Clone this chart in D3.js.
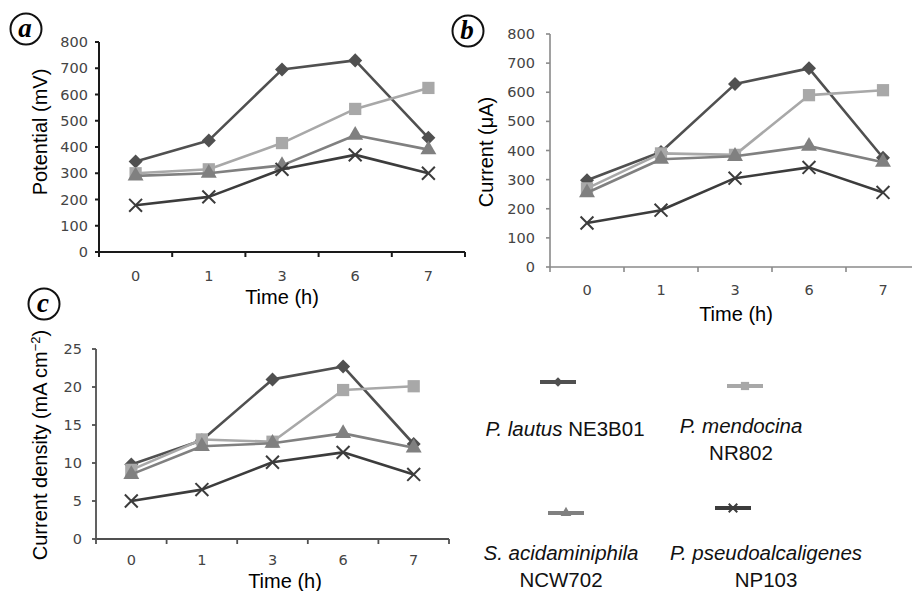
<!DOCTYPE html>
<html lang="en">
  <head>
    <meta charset="UTF-8" />
    <title>Potential, current and current density</title>
    <style>
      body { margin: 0; background: #fff; }
      text { font-family: "Liberation Sans", Arial, sans-serif; }
      .tick-label { font-family: "DejaVu Sans", Verdana, sans-serif; font-size: 14.5px; fill: #444; }
    </style>
  </head>
  <body>
    <svg id="svg" width="912" height="591"></svg>
    <script src="https://d3js.org/d3.v7.min.js"></script>
    <script>
      // sampling times (h)
      const times = ["0", "1", "3", "6", "7"];
      const strains = ["lautus", "mendocina", "acid", "pseudo"];

      // (a) potential, mV
      const potentialLautus = [345, 425, 695, 730, 435];
      const potentialMendocina = [300, 315, 415, 545, 625];
      const potentialAcid = [290, 300, 330, 445, 390];
      const potentialPseudo = [178, 210, 315, 370, 300];
      const potentialTicks = [0, 100, 200, 300, 400, 500, 600, 700, 800];

      // (b) current, uA
      const currentLautus = [298, 395, 628, 682, 375];
      const currentMendocina = [270, 390, 385, 590, 607];
      const currentAcid = [255, 370, 380, 415, 360];
      const currentPseudo = [151, 195, 305, 342, 256];
      const currentTicks = [0, 100, 200, 300, 400, 500, 600, 700, 800];

      // (c) current density, mA cm-2
      const densityLautus = [9.8, 13.0, 21.0, 22.7, 12.5];
      const densityMendocina = [9.1, 13.1, 12.8, 19.6, 20.1];
      const densityAcid = [8.5, 12.2, 12.6, 13.9, 12.0];
      const densityPseudo = [5.0, 6.5, 10.1, 11.4, 8.5];
      const densityTicks = [0, 5, 10, 15, 20, 25];

      // look of each series
      const style = {
        lautus: { color: "#505050", symbol: d3.symbolDiamond2, size: 125, fill: true },
        mendocina: { color: "#a8a8a8", symbol: d3.symbolSquare, size: 150, fill: true },
        acid: { color: "#808080", symbol: d3.symbolTriangle, size: 110, fill: true },
        pseudo: { color: "#3c3c3c", symbol: d3.symbolTimes, size: 110, fill: false }
      };

      const svg = d3.select("#svg");
      svg.append("rect").attr("width", 912).attr("height", 591).attr("fill", "#fff");

      function drawPanel(p) {
        const x = d3.scaleBand().domain(times).range([p.x0, p.x1]);
        const y = d3.scaleLinear().domain([0, d3.max(p.ticks)]).range([p.y0, p.y1]);
        const g = svg.append("g");

        // axes
        g.append("line")
          .attr("x1", p.x0).attr("x2", p.x0).attr("y1", y(d3.max(p.ticks))).attr("y2", p.y0)
          .attr("stroke", p.axisColor).attr("stroke-width", p.axisWidth);
        g.append("line")
          .attr("x1", p.x0).attr("x2", p.x1).attr("y1", p.y0).attr("y2", p.y0)
          .attr("stroke", p.axisColor).attr("stroke-width", p.axisWidth);
        const bounds = times.map((t) => x(t)).concat([p.x1]);
        g.selectAll(".xt").data(bounds).enter().append("line")
          .attr("x1", (d) => d).attr("x2", (d) => d)
          .attr("y1", p.y0).attr("y2", p.y0 + 5)
          .attr("stroke", p.axisColor).attr("stroke-width", p.axisWidth);
        g.selectAll(".yt").data(p.ticks).enter().append("line")
          .attr("x1", p.x0 - 4).attr("x2", p.x0)
          .attr("y1", (d) => y(d)).attr("y2", (d) => y(d))
          .attr("stroke", p.axisColor).attr("stroke-width", p.axisWidth);
        g.selectAll(".yl").data(p.ticks).enter().append("text")
          .attr("class", "tick-label")
          .attr("x", p.x0 - p.ylabOff).attr("y", (d) => y(d) + 5)
          .attr("text-anchor", "end").text((d) => d);
        g.selectAll(".xl").data(times).enter().append("text")
          .attr("class", "tick-label")
          .attr("x", (d) => x(d) + x.bandwidth() / 2).attr("y", p.y0 + p.xlabOff)
          .attr("text-anchor", "middle").text((d) => d);

        // titles
        g.append("text")
          .attr("x", p.xtitleX).attr("y", p.xtitleY)
          .attr("text-anchor", "middle").attr("font-size", 20).text("Time (h)");
        const yt = g.append("text")
          .attr("transform", `translate(${p.ytitleX},${p.ytitleY}) rotate(-90)`)
          .attr("text-anchor", "middle").attr("font-size", 20);
        p.ytitle(yt);

        // series
        const line = d3.line().x((d, i) => x(times[i]) + x.bandwidth() / 2).y((d) => y(d));
        strains.forEach((s, k) => {
          const vals = p.series[k];
          const st = style[s];
          g.append("path").datum(vals).attr("d", line)
            .attr("fill", "none").attr("stroke", st.color).attr("stroke-width", 2.6)
            .attr("stroke-linejoin", "round");
          g.selectAll(".m" + s).data(vals).enter().append("path")
            .attr("d", d3.symbol().type(st.symbol).size(st.size))
            .attr("transform", (d, i) => `translate(${x(times[i]) + x.bandwidth() / 2},${y(d)})`)
            .attr("fill", st.fill ? st.color : "none")
            .attr("stroke", st.color).attr("stroke-width", st.fill ? 0 : 2);
        });

        // circled panel letter
        g.append("circle").attr("cx", p.letterX).attr("cy", p.letterY).attr("r", 15.5)
          .attr("fill", "#fff").attr("stroke", "#111").attr("stroke-width", 2);
        g.append("text").attr("x", p.letterX - 1).attr("y", p.letterY + 8)
          .attr("text-anchor", "middle")
          .style("font-family", "'Liberation Serif', 'Times New Roman', serif")
          .attr("font-style", "italic").attr("font-weight", "bold").attr("font-size", 27)
          .text(p.letter);
      }

      drawPanel({
        letter: "a", letterX: 26, letterY: 29,
        x0: 99, x1: 465, y0: 252, y1: 42,
        ticks: potentialTicks, axisColor: "#1a1a1a", axisWidth: 2,
        ylabOff: 11, xlabOff: 29, xtitleX: 282, xtitleY: 304, ytitleX: 47, ytitleY: 132,
        ytitle: (t) => t.text("Potential (mV)"),
        series: [potentialLautus, potentialMendocina, potentialAcid, potentialPseudo]
      });

      drawPanel({
        letter: "b", letterX: 468, letterY: 31,
        x0: 550, x1: 920, y0: 267, y1: 34,
        ticks: currentTicks, axisColor: "#8a8a8a", axisWidth: 1.6,
        ylabOff: 15, xlabOff: 28, xtitleX: 736, xtitleY: 321, ytitleX: 493, ytitleY: 152,
        ytitle: (t) => t.text("Current (\u03bcA)"),
        series: [currentLautus, currentMendocina, currentAcid, currentPseudo]
      });

      drawPanel({
        letter: "c", letterX: 44, letterY: 304,
        x0: 96, x1: 449, y0: 539, y1: 349,
        ticks: densityTicks, axisColor: "#505050", axisWidth: 1.8,
        ylabOff: 14, xlabOff: 26, xtitleX: 285, xtitleY: 588, ytitleX: 47, ytitleY: 445,
        ytitle: (t) => {
          t.append("tspan").text("Current density (mA cm");
          t.append("tspan").attr("dy", -7).attr("font-size", 13).text("\u22122");
          t.append("tspan").attr("dy", 7).text(")");
        },
        series: [densityLautus, densityMendocina, densityAcid, densityPseudo]
      });

      // legend (layout only)
      const legendItems = [
        { s: "lautus", lx: 540, ly: 382, tx: 565, ty: 436, italic: "P. lautus", rest: " NE3B01", second: "" },
        { s: "mendocina", lx: 727, ly: 386, tx: 741, ty: 433, italic: "P. mendocina", rest: "", second: "NR802" },
        { s: "acid", lx: 548, ly: 513, tx: 561, ty: 560, italic: "S. acidaminiphila", rest: "", second: "NCW702" },
        { s: "pseudo", lx: 715, ly: 508, tx: 766, ty: 560, italic: "P. pseudoalcaligenes", rest: "", second: "NP103" }
      ];
      const lg = svg.append("g");
      legendItems.forEach((it) => {
        const st = style[it.s];
        lg.append("line").attr("x1", it.lx).attr("x2", it.lx + 36)
          .attr("y1", it.ly).attr("y2", it.ly)
          .attr("stroke", st.color).attr("stroke-width", 4);
        lg.append("path")
          .attr("d", d3.symbol().type(st.symbol).size(st.size * 0.45))
          .attr("transform", `translate(${it.lx + 18},${it.ly})`)
          .attr("fill", st.fill ? st.color : "none")
          .attr("stroke", st.color).attr("stroke-width", st.fill ? 0 : 2);
        const t = lg.append("text").attr("x", it.tx).attr("y", it.ty)
          .attr("text-anchor", "middle").attr("font-size", 20.5).attr("fill", "#111");
        t.append("tspan").attr("font-style", "italic").text(it.italic);
        if (it.rest) t.append("tspan").text(it.rest);
        if (it.second) {
          lg.append("text").attr("x", it.tx).attr("y", it.ty + 27)
            .attr("text-anchor", "middle").attr("font-size", 20.5).attr("fill", "#111")
            .text(it.second);
        }
      });
    </script>
  </body>
</html>
